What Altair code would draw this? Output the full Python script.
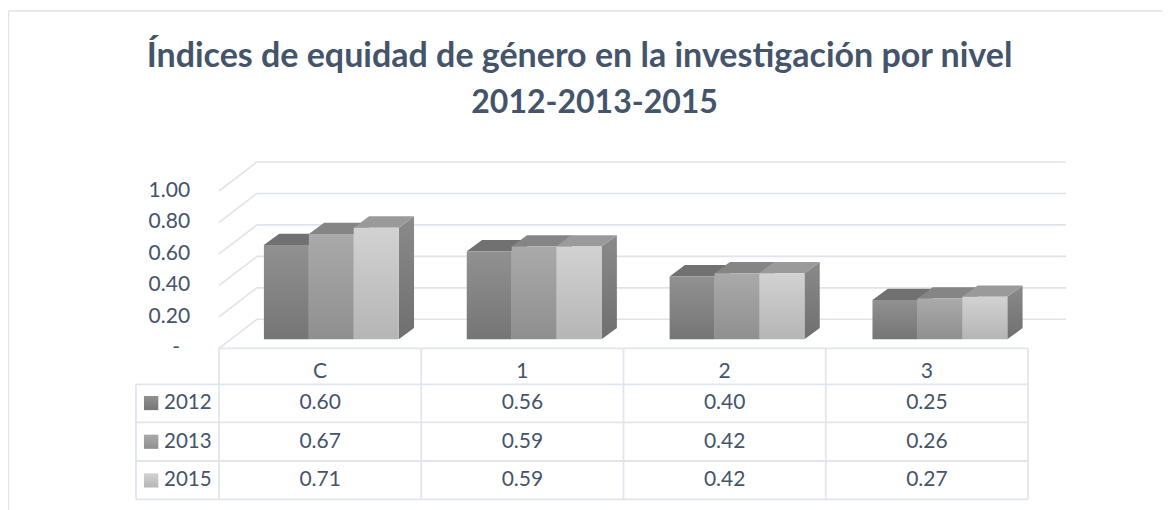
import altair as alt
import pandas as pd

# ---- data ----
categories = ["C", "1", "2", "3"]
series_names = ["2012", "2013", "2015"]
values_2012 = [0.60, 0.56, 0.40, 0.25]
values_2013 = [0.67, 0.59, 0.42, 0.26]
values_2015 = [0.71, 0.59, 0.42, 0.27]
y_ticks = [0.0, 0.2, 0.4, 0.6, 0.8, 1.0]
y_tick_labels = ["-", "0.20", "0.40", "0.60", "0.80", "1.00"]
title_line_1 = "Índices de equidad de género en la investigación por nivel"
title_line_2 = "2012-2013-2015"

series_values = [values_2012, values_2013, values_2015]
front_colors = [("#919191", "#757575"), ("#aaaaaa", "#8f8f8f"), ("#d2d2d2", "#b5b5b5")]
top_colors = ["#717171", "#858585", "#9a9a9a"]
side_colors = ("#8a8a8a", "#6f6f6f")

# ---- layout: plot maps one category to UX pixels and one value unit to UY pixels ----
W, H = 1155, 502
UX, UY = 202.25, 157.3
X0_PX, Y0_PX = 219 - 8, 348.3 - 8
x_domain = [-X0_PX / UX, (W - X0_PX) / UX]
y_domain = [(Y0_PX - H) / UY, Y0_PX / UY]

BAR_START = 0.222      # bar offset within its category
BAR_PITCH = 1.003      # distance between bar groups, in categories
BAR_W = 0.2222         # width of one bar
BAR_BASE = 0.057       # height of the bar foot above the front floor edge
DEPTH_X, DEPTH_Y = 0.0757, 0.0718      # bar depth
WALL_X, WALL_Y = 0.188, 0.1844         # distance front edge -> back wall
N = len(categories)

row_edges = [0.0, -0.229, -0.4705, -0.7165, -0.96]
row_text = [-0.152, -0.348, -0.594, -0.84]
LEFT_EDGE = -0.4105
SW_L, SW_R = -0.371, -0.3
SW_H = 0.045
LABEL_X = -0.272
TICK_X = -0.143
DASH_X = -0.193
LINE2_X, LINE2_Y = 1.857, 1.496

x_scale = alt.Scale(domain=x_domain, nice=False, zero=False)
y_scale = alt.Scale(domain=y_domain, nice=False, zero=False)
X = alt.X("x:Q", scale=x_scale, axis=None)
X2 = alt.X2("x2:Q")
Y = alt.Y("y:Q", scale=y_scale, axis=None)
Y2 = alt.Y2("y2:Q")
GRID = "#DFE4EB"
TABLE = "#E1E6EE"
TEXT = "#44546A"
FONT = "Lato"


def grad(c1, c2):
    return alt.Gradient(
        gradient="linear", x1=0, x2=0, y1=0, y2=1,
        stops=[alt.GradientStop(offset=0, color=c1), alt.GradientStop(offset=1, color=c2)],
    )


def rules(rows, color, width):
    return alt.Chart(pd.DataFrame(rows, columns=["x", "x2", "y", "y2"])).mark_rule(
        color=color, strokeWidth=width
    ).encode(x=X, x2=X2, y=Y, y2=Y2)


layers = []

# frame
xa, ya = x_domain[1], (Y0_PX - 3) / UY
xl = x_domain[0] + 0.002
layers.append(rules([[xl, xa, ya, ya], [xl, xl, ya, y_domain[0]]], GRID, 1.6))

# second title line
layers.append(
    alt.Chart(pd.DataFrame({"x": [LINE2_X], "y": [LINE2_Y], "t": [title_line_2]})).mark_text(
        font=FONT, fontSize=32, fontWeight="bold", color=TEXT, align="center", baseline="alphabetic"
    ).encode(x=X, y=Y, text="t:N")
)

# gridlines on the wall
grid_rows = [[WALL_X, N + WALL_X, t + WALL_Y, t + WALL_Y] for t in y_ticks]
slant_rows = [[0, WALL_X, t, t + WALL_Y] for t in y_ticks]
layers.append(rules(grid_rows, GRID, 1.6))
layers.append(rules(slant_rows, GRID, 1.6))

# value labels
tick_df = pd.DataFrame(
    {
        "x": [DASH_X if t == 0 else TICK_X for t in y_ticks],
        "y": y_ticks,
        "t": y_tick_labels,
    }
)
layers.append(
    alt.Chart(tick_df).mark_text(
        font=FONT, fontSize=21, color=TEXT, align="right", baseline="middle"
    ).encode(x=X, y=Y, text="t:N")
)

# table lines
hlines = [[0, N, row_edges[0], row_edges[0]]] + [[LEFT_EDGE, N, e, e] for e in row_edges[1:]]
vlines = [[LEFT_EDGE, LEFT_EDGE, row_edges[1], row_edges[-1]]]
vlines += [[i, i, row_edges[0], row_edges[-1]] for i in range(N + 1)]
layers.append(rules(hlines + vlines, TABLE, 1.8))

# bars, one series after the other
for s, vals in enumerate(series_values):
    side, top, front = [], [], []
    for i, v in enumerate(vals):
        l = i * BAR_PITCH + BAR_START + s * BAR_W
        r = l + BAR_W
        b = BAR_BASE
        t = BAR_BASE + v
        side += [
            {"k": i, "x": r, "y": t, "y2": b},
            {"k": i, "x": r + DEPTH_X, "y": t + DEPTH_Y, "y2": b + DEPTH_Y},
        ]
        top += [
            {"k": i, "x": l, "y": t, "y2": t},
            {"k": i, "x": l + DEPTH_X, "y": t + DEPTH_Y, "y2": t},
            {"k": i, "x": r, "y": t + DEPTH_Y, "y2": t},
            {"k": i, "x": r + DEPTH_X, "y": t + DEPTH_Y, "y2": t + DEPTH_Y},
        ]
        front.append({"x": l, "x2": r, "y": t, "y2": b})
    layers.append(
        alt.Chart(pd.DataFrame(side)).mark_area(
            orient="vertical", fill=grad(*side_colors), stroke=None
        ).encode(x=X, y=Y, y2=Y2, detail="k:N")
    )
    layers.append(
        alt.Chart(pd.DataFrame(top)).mark_area(
            orient="vertical", fill=top_colors[s], stroke=None
        ).encode(x=X, y=Y, y2=Y2, detail="k:N")
    )
    layers.append(
        alt.Chart(pd.DataFrame(front)).mark_bar(fill=grad(*front_colors[s]), stroke=None).encode(
            x=X, x2=X2, y=Y, y2=Y2
        )
    )
    # legend key in the table
    c = row_text[s + 1]
    key = pd.DataFrame({"x": [SW_L], "x2": [SW_R], "y": [c + SW_H], "y2": [c - SW_H]})
    layers.append(
        alt.Chart(key).mark_bar(fill=grad(*front_colors[s]), stroke=None).encode(
            x=X, x2=X2, y=Y, y2=Y2
        )
    )

# table text
cells = [{"x": i + 0.5, "y": row_text[0], "t": c} for i, c in enumerate(categories)]
for s, vals in enumerate(series_values):
    cells += [{"x": i + 0.5, "y": row_text[s + 1], "t": f"{v:.2f}"} for i, v in enumerate(vals)]
layers.append(
    alt.Chart(pd.DataFrame(cells)).mark_text(
        font=FONT, fontSize=21, color=TEXT, align="center", baseline="middle"
    ).encode(x=X, y=Y, text="t:N")
)
labels = [{"x": LABEL_X, "y": row_text[s + 1], "t": n} for s, n in enumerate(series_names)]
layers.append(
    alt.Chart(pd.DataFrame(labels)).mark_text(
        font=FONT, fontSize=20.5, color=TEXT, align="left", baseline="middle"
    ).encode(x=X, y=Y, text="t:N")
)

chart = alt.layer(*layers).properties(
    width=W,
    height=H,
    padding=0,
    autosize=alt.AutoSizeParams(type="none"),
    title=alt.TitleParams(
        text=title_line_1, font=FONT, fontSize=34, fontWeight="bold", color=TEXT,
        anchor="middle", baseline="alphabetic", offset=-93, dx=-6,
    ),
).configure_view(stroke=None)

chart.save("out.html", embed_options={"renderer": "svg", "actions": False})
